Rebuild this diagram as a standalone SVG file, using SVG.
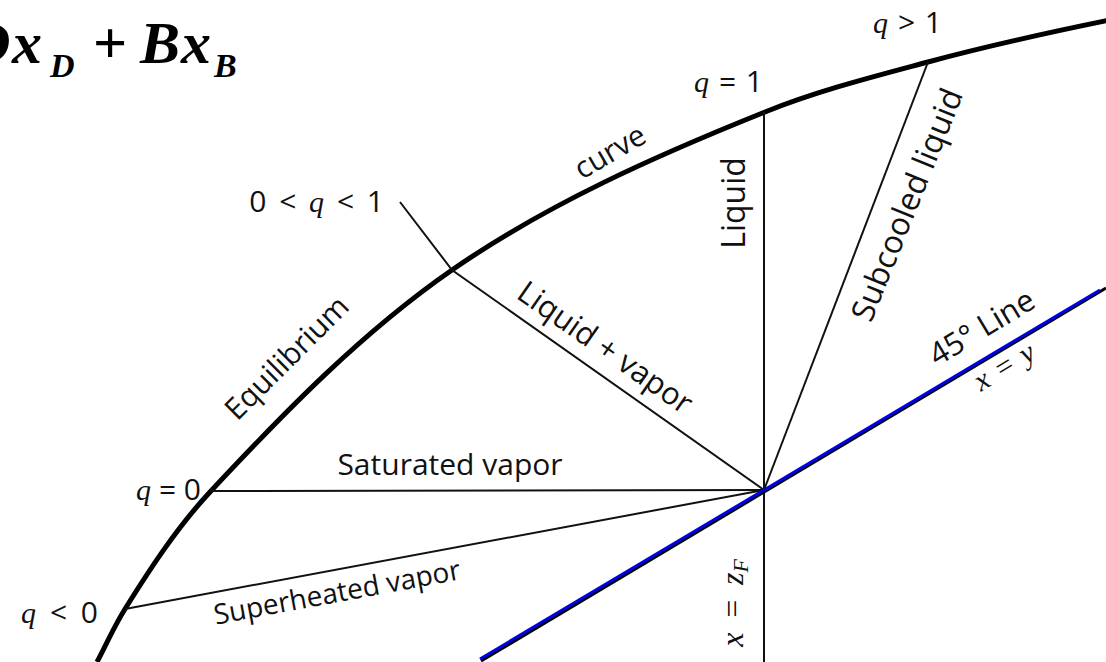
<svg xmlns="http://www.w3.org/2000/svg" width="1106" height="662" viewBox="0 0 1106 662">
<style>
.lbl{font-family:"Open Sans","Liberation Sans",sans-serif;font-size:30px;fill:#111}
.q{font-family:"Liberation Serif",serif;font-style:italic}
.eq{font-family:"Liberation Serif",serif;font-weight:bold;font-style:italic;fill:#000}
.thin{stroke:#111;stroke-width:2;fill:none}
</style>
<rect width="1106" height="662" fill="#fff"/>
<g id="formula">
<text class="eq" style="font-size:60px" x="-33" y="63">D</text>
<text class="eq" style="font-size:60px" x="12" y="63">x</text>
<text class="eq" style="font-size:34px" x="50" y="77">D</text>
<text class="eq" style="font-size:60px;font-style:normal" x="93" y="63">+</text>
<text class="eq" style="font-size:60px" x="140" y="63">B</text>
<text class="eq" style="font-size:60px" x="181" y="63">x</text>
<text class="eq" style="font-size:34px" x="214" y="77">B</text>
</g>
<g id="connectors">
<path id="equilibrium-curve" d="M97,662 C106.2,644.3 114.4,626 125,609 C150.4,568.3 177.3,527.1 210,492 C284.3,412.3 362.4,332 452,270 C548.2,203.4 656.4,155.6 765,112 C817.9,90.7 872.9,76.8 928,62 C987.9,45.9 1049.2,32.4 1110,20" stroke="#000" stroke-width="5" fill="none"/>
<line class="thin" x1="764" y1="112" x2="764" y2="662"/>
<line class="thin" x1="210" y1="491" x2="764" y2="490"/>
<line class="thin" x1="125" y1="609" x2="764" y2="490"/>
<polyline class="thin" points="400,202 452,270 764,490"/>
<line class="thin" x1="928" y1="62" x2="764" y2="490"/>
<line x1="481" y1="661" x2="1106" y2="288" stroke="#000" stroke-width="3"/>
<line x1="480" y1="659" x2="1100" y2="290" stroke="#0000e6" stroke-width="3"/>
</g>
<g id="labels">
<text class="lbl" text-anchor="end" x="942" y="33" word-spacing="2"><tspan class="q">q</tspan> &gt; 1</text>
<text class="lbl" text-anchor="end" x="763" y="92" word-spacing="2"><tspan class="q">q</tspan> = 1</text>
<text class="lbl" text-anchor="end" x="384" y="212" word-spacing="5">0 &lt; <tspan class="q">q</tspan> &lt; 1</text>
<text class="lbl" text-anchor="end" x="201" y="500"><tspan class="q">q</tspan> = 0</text>
<text class="lbl" text-anchor="end" x="98" y="623" word-spacing="6"><tspan class="q">q</tspan> &lt; 0</text>
<text class="lbl" text-anchor="middle" transform="translate(287,358) rotate(-45)" y="10">Equilibrium</text>
<text class="lbl" text-anchor="middle" transform="translate(610,152) rotate(-30)" y="10">curve</text>
<text class="lbl" style="font-size:32px" text-anchor="middle" transform="translate(745,203) rotate(-90)">Liquid</text>
<text class="lbl" style="font-size:31px" text-anchor="middle" transform="translate(605,348) rotate(35)" y="10">Liquid + vapor</text>
<text class="lbl" style="font-size:32px" text-anchor="middle" transform="translate(908,205) rotate(-68)" y="10">Subcooled liquid</text>
<text class="lbl" text-anchor="middle" x="450" y="475">Saturated vapor</text>
<text class="lbl" style="font-size:28px" text-anchor="middle" transform="translate(337,592) rotate(-10.5)" y="10">Superheated vapor</text>
<text class="lbl" style="font-size:31px" text-anchor="middle" transform="translate(982,328) rotate(-31)" y="10">45° Line</text>
<text class="lbl q" text-anchor="middle" transform="translate(1005,368) rotate(-31)" y="8" word-spacing="2">x = y</text>
<text class="lbl q" style="font-size:32px" text-anchor="middle" transform="translate(743,603) rotate(-90)" word-spacing="5">x = z<tspan style="font-size:22px" dy="5">F</tspan></text>
</g>
</svg>
